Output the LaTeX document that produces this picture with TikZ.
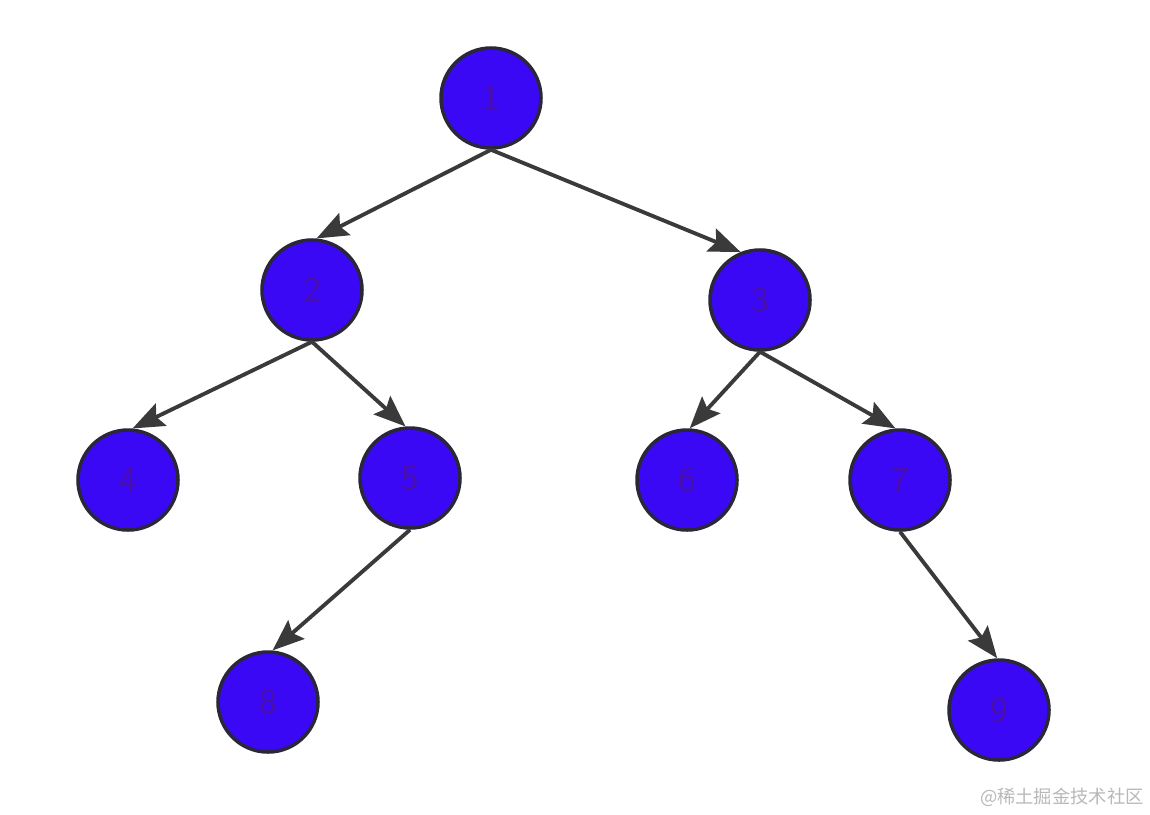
\documentclass[tikz,border=0pt]{standalone}
\usepackage{fontspec}
\usepackage{xcolor}
\usepackage{tikz}
\usetikzlibrary{arrows.meta}
\newfontfamily\cjk{Noto Sans CJK SC}
\definecolor{nodeblue}{HTML}{3A08F4}
\definecolor{nodeline}{HTML}{2A2838}
\definecolor{nodetext}{HTML}{4A10A8}
\definecolor{edgegray}{HTML}{3A3A3A}
\tikzset{
    treenode/.style={circle, draw=nodeline, fill=nodeblue, line width=1pt,
        minimum size=1cm, inner sep=0pt, text=nodetext, font=\sffamily},
    treeedge/.style={draw=edgegray, line width=1.1pt,
        -{Stealth[length=9pt, width=7pt, inset=1.5pt]}},
    watermark/.style={text=black!28, font=\cjk\fontsize{5.2}{6}\selectfont, anchor=east}
}

\begin{document}
\begin{tikzpicture}
        \useasboundingbox (0,0) rectangle (11.5,-8.14);

        % ---------------- vertices ----------------
        \foreach \i/\x/\y in {1/4.91/-0.98, 2/3.12/-2.90, 3/7.60/-3.00,
                              4/1.28/-4.80, 5/4.10/-4.78, 6/6.87/-4.80,
                              7/9.00/-4.80, 8/2.68/-7.02, 9/9.99/-7.10} {
            \node[treenode] (v\i) at (\x,\y) {\i};
        }

        % ---------------- edges (bottom of parent to top of child) ----------------
        \foreach \a/\b/\end in {1/2/85, 1/3/112, 2/4/85, 2/5/95, 3/6/87, 3/7/95, 5/8/85, 7/9/92} {
            \draw[treeedge] (v\a.south) -- (v\b.\end);
        }

        \node[watermark] (mark) at (11.56,-7.97) {@稀土掘金技术社区};
    \end{tikzpicture}
\end{document}
